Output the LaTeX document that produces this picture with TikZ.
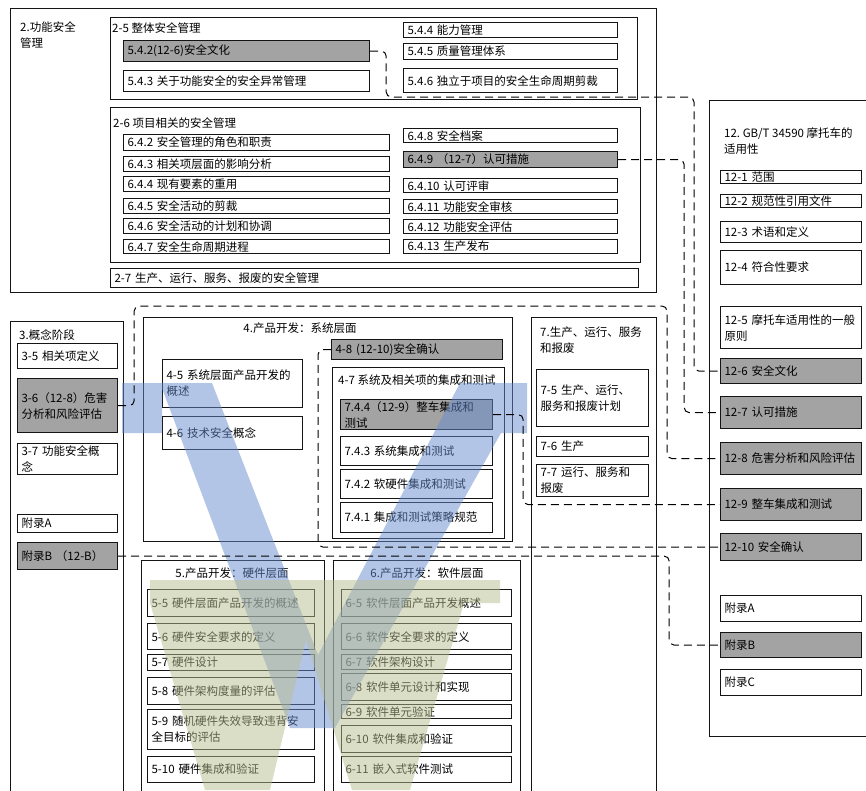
\documentclass[tikz,border=0pt]{standalone}
\usepackage{fontspec}
\setmainfont{Noto Sans CJK SC}
\usetikzlibrary{calc}
\definecolor{boxgray}{RGB}{163,163,163}
\definecolor{linec}{RGB}{20,20,20}
\definecolor{wmblue}{RGB}{105,141,207}
\definecolor{wmolive}{RGB}{185,190,145}
\newcommand{\fs}{\fontsize{11.5}{16}\selectfont}
\tikzset{
 wbox/.style={draw=linec, line width=1.2pt, fill=white, inner xsep=4pt, inner ysep=0pt, align=left, font=\fs},
 gbox/.style={wbox, fill=boxgray},
 frm/.style={draw=linec, line width=0.9pt, inner sep=0pt},
 ttl/.style={inner sep=0pt, align=left, font=\fs},
 conn/.style={draw=black, line width=1pt, dash pattern=on 8pt off 5pt, rounded corners=5pt},
 wmb/.style={fill=wmblue, opacity=0.5, draw=none},
 wmo/.style={fill=wmolive, opacity=0.5, draw=none},
}
\newcommand{\bx}[7][wbox]{%
 \pgfmathsetmacro{\bxw}{#5-#3}%
 \pgfmathsetmacro{\bxh}{#6-#4}%
 \pgfmathsetmacro{\bxt}{#5-#3-8}%
 \node[#1, anchor=north west, minimum width=\bxw pt, minimum height=\bxh pt, text width=\bxt pt] (#2) at (#3,#4) {#7};}
\newcommand{\fr}[5]{%
 \pgfmathsetmacro{\bxw}{#4-#2}%
 \pgfmathsetmacro{\bxh}{#5-#3}%
 \node[frm, anchor=north west, minimum width=\bxw pt, minimum height=\bxh pt] (#1) at (#2,#3) {};}
\begin{document}
\begin{tikzpicture}[x=1pt,y=-1pt]
\useasboundingbox (0,0) rectangle (866,790);
\clip (0,0) rectangle (866,790);
\fill[white] (0,0) rectangle (866,790);
% ---- frames
\fr{f2}{10}{8}{656}{292}
\fr{f25}{110}{17}{637}{99}
\fr{f26}{110}{107}{640}{262}
\fr{f3}{10}{321}{123}{800}
\fr{f4}{143}{317}{512}{541}
\fr{f47}{332}{367}{504}{538}
\fr{f7}{531}{317}{656}{800}
\fr{f12}{709}{100}{880}{736}
\fr{f5}{141}{560}{324}{800}
\fr{f6}{333}{560}{520}{800}
% ---- titles
\node[ttl, anchor=west] (t2) at (20,35) {2.功能安全\\管理};
\node[ttl, anchor=west] (t25) at (112,28) {2-5~整体安全管理};
\node[ttl, anchor=west] (t26) at (113,123) {2-6~项目相关的安全管理};
\node[ttl, anchor=west] (t3) at (19,335) {3.概念阶段};
\node[ttl] (t4) at (300,328) {4.产品开发：系统层面};
\node[ttl, anchor=west] (t47) at (338,380) {4-7~系统及相关项的集成和测试};
\node[ttl, anchor=west] (t7) at (540,340) {7.生产、运行、服务\\和报废};
\node[ttl, anchor=west] (t12) at (724,141) {12.~GB/T~34590~摩托车的\\适用性};
\node[ttl] (t5) at (232,573) {5.产品开发：硬件层面};
\node[ttl] (t6) at (427,573) {6.产品开发：软件层面};
% ---- 2-5
\bx[gbox]{b542}{123}{40}{369}{61}{5.4.2(12-6)安全文化}
\bx{b543}{123}{70}{369}{91}{5.4.3~关于功能安全的安全异常管理}
\bx{b544}{403}{22}{617}{37}{5.4.4~能力管理}
\bx{b545}{403}{43}{617}{59}{5.4.5~质量管理体系}
\bx{b546}{403}{68}{617}{92}{5.4.6~独立于项目的安全生命周期剪裁}
% ---- 2-6
\bx{b642}{123}{134}{389}{150}{6.4.2~安全管理的角色和职责}
\bx{b643}{123}{156}{389}{171}{6.4.3~相关项层面的影响分析}
\bx{b644}{123}{176}{389}{191}{6.4.4~现有要素的重用}
\bx{b645}{123}{198}{389}{213}{6.4.5~安全活动的剪裁}
\bx{b646}{123}{218}{389}{233}{6.4.6~安全活动的计划和协调}
\bx{b647}{123}{239}{389}{253}{6.4.7~安全生命周期进程}
\bx{b648}{403}{128}{617}{142}{6.4.8~安全档案}
\bx[gbox]{b649}{403}{151}{617}{167}{6.4.9~（12-7）认可措施}
\bx{b6410}{403}{178}{617}{192}{6.4.10~认可评审}
\bx{b6411}{403}{199}{617}{213}{6.4.11~功能安全审核}
\bx{b6412}{403}{219}{617}{233}{6.4.12~功能安全评估}
\bx{b6413}{403}{239}{617}{253}{6.4.13~生产发布}
\bx{b27}{110}{268}{638}{287}{2-7~生产、运行、服务、报废的安全管理}
% ---- 3
\bx{b35}{17}{343}{117}{368}{3-5~相关项定义}
\bx[gbox]{b36}{17}{378}{117}{432}{3-6（12-8）危害\\分析和风险评估}
\bx{b37}{17}{443}{117}{474}{3-7~功能安全概\\念}
\bx{bfA}{17}{514}{117}{532}{附录A}
\bx[gbox]{bfB}{17}{542}{117}{569}{附录B~（12-B）}
% ---- 4
\bx{b45}{162}{359}{302}{407}{4-5~系统层面产品开发的\\概述}
\bx{b46}{162}{416}{302}{449}{4-6~技术安全概念}
\bx[gbox]{b48}{331}{339}{502}{359}{4-8~(12-10)安全确认}
\bx[gbox]{b744}{340}{399}{492}{429}{7.4.4（12-9）整车集成和\\测试}
\bx{b743}{340}{436}{492}{465}{7.4.3~系统集成和测试}
\bx{b742}{340}{469}{492}{498}{7.4.2~软硬件集成和测试}
\bx{b741}{340}{502}{492}{532}{7.4.1~集成和测试策略规范}
% ---- 7
\bx{b75}{536}{369}{648}{426}{7-5~生产、运行、\\服务和报废计划}
\bx{b76}{536}{436}{648}{456}{7-6~生产}
\bx{b77}{536}{464}{648}{496}{7-7~运行、服务和\\报废}
% ---- 12
\bx{b121}{720}{170}{861}{183}{12-1~范围}
\bx{b122}{720}{194}{861}{207}{12-2~规范性引用文件}
\bx{b123}{720}{221}{861}{242}{12-3~术语和定义}
\bx{b124}{720}{250}{861}{284}{12-4~符合性要求}
\bx{b125}{720}{306}{861}{348}{12-5~摩托车适用性的一般\\原则}
\bx[gbox]{b126}{720}{358}{861}{383}{12-6~安全文化}
\bx[gbox]{b127}{720}{396}{861}{428}{12-7~认可措施}
\bx[gbox]{b128}{720}{442}{861}{474}{12-8~危害分析和风险评估}
\bx[gbox]{b129}{720}{488}{861}{520}{12-9~整车集成和测试}
\bx[gbox]{b1210}{720}{533}{861}{560}{12-10~安全确认}
\bx{b12A}{720}{595}{861}{621}{附录A}
\bx[gbox]{b12B}{720}{632}{861}{657}{附录B}
\bx{b12C}{720}{669}{861}{695}{附录C}
% ---- 5
\bx{b55}{147}{589}{314}{616}{5-5~硬件层面产品开发的概述}
\bx{b56}{147}{623}{314}{649}{5-6~硬件安全要求的定义}
\bx{b57}{147}{654}{314}{670}{5-7~硬件设计}
\bx{b58}{147}{677}{314}{704}{5-8~硬件架构度量的评估}
\bx{b59}{147}{709}{314}{749}{5-9~随机硬件失效导致违背安\\全目标的评估}
\bx{b510}{147}{756}{314}{782}{5-10~硬件集成和验证}
% ---- 6
\bx{b65}{341}{589}{511}{616}{6-5~软件层面产品开发概述}
\bx{b66}{341}{623}{511}{649}{6-6~软件安全要求的定义}
\bx{b67}{341}{654}{511}{669}{6-7~软件架构设计}
\bx{b68}{341}{673}{511}{700}{6-8~软件单元设计和实现}
\bx{b69}{341}{704}{511}{718}{6-9~软件单元验证}
\bx{b610}{341}{725}{511}{752}{6-10~软件集成和验证}
\bx{b611}{341}{756}{511}{782}{6-11~嵌入式软件测试}
% ---- watermark
\fill[wmb] (122,383) -- (162,383) -- (162,433) -- (122,433) -- cycle
 (160,383) -- (212,383) -- (318,655) -- (460,383) -- (527,383) -- (527,433) -- (501,433) -- (335,728) -- (290,728) -- cycle;
\fill[wmo] (150,580) -- (500,580) -- (500,603) -- (464,603) -- (410,790) -- (375,790) -- (358,731) -- (398,790) -- (352,790) -- (306,640) -- (270,790) -- (228,790) -- (241,737) -- (255,790) -- (205,790) -- (150,603) -- cycle;
% ---- connectors
\draw[conn] (b542.east) -- ++(16,0) |- (694,97) |- (b126.west);
\draw[conn] (b649.east) -- ++(66,0) |- (b127.west);
\draw[conn] (b36.east) -- ++(16,0) |- (667,306) |- (b128.west);
\draw[conn] (b744.east) -- ++(30,0) |- (b129.west);
\draw[conn] (b48.west) -- ++(-13,0) |- (b1210.west);
\draw[conn] (bfB.east) -- ++(551,0) |- (b12B.west);
\end{tikzpicture}
\end{document}
